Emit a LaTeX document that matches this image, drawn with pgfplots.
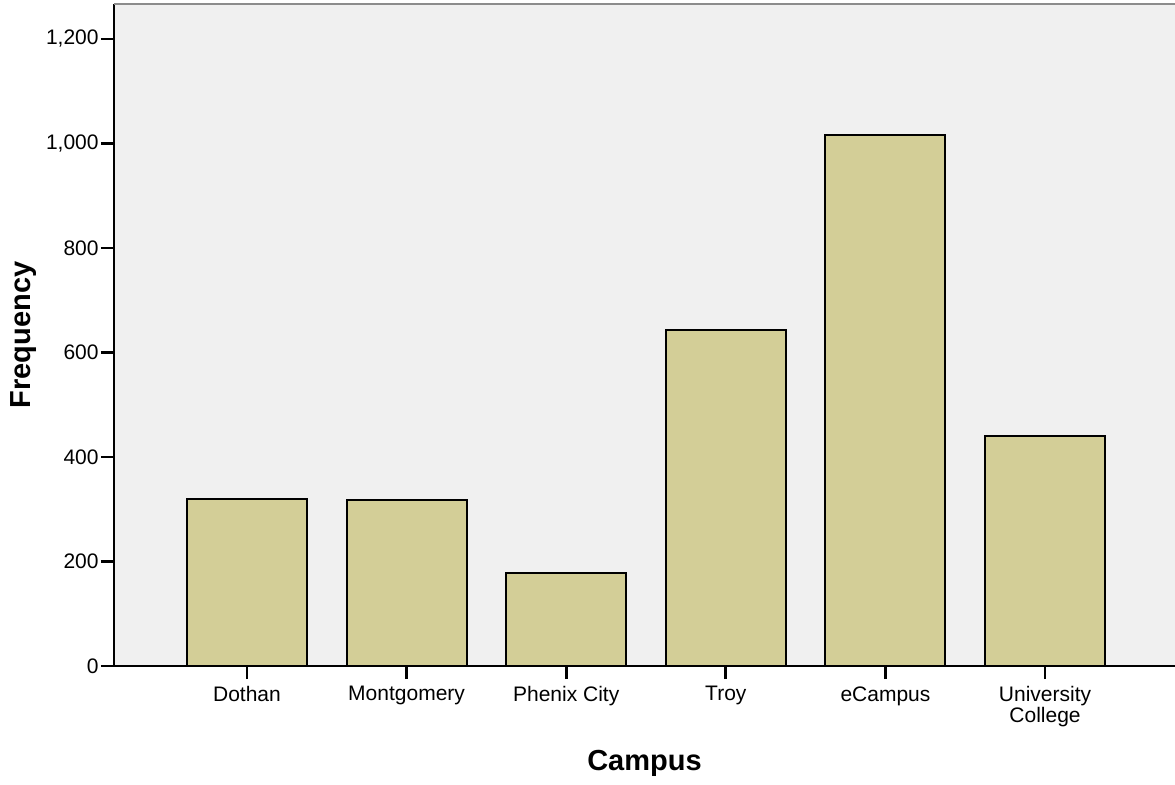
\documentclass[border=0pt]{standalone}
\usepackage{pgfplots}
\pgfplotsset{compat=1.18}
\usepackage{fontspec}
\setmainfont{Liberation Sans}

\definecolor{barfill}{RGB}{211,206,151}
\definecolor{plotbg}{RGB}{240,240,240}

\begin{document}
\begin{tikzpicture}
  % fix the page to the reference proportions (1 px = 0.5 pt)
  \useasboundingbox (-57pt,-59pt) rectangle (530.5pt,333pt);
  \begin{axis}[
    scale only axis,
    width=530.5pt, height=331pt,
    xmin=-0.833, xmax=5.814,
    ymin=0, ymax=1267,
    axis x line*=bottom,
    axis y line*=left,
    axis line style={line width=1.4pt, -},
    axis background/.style={fill=plotbg},
    tick align=outside,
    major tick length=6.5pt,
    tick style={line width=1.4pt, black},
    xtick={0,1,2,3,4,5},
    xticklabels={Dothan, Montgomery, Phenix City, Troy, eCampus, University\\College},
    xticklabel style={align=center, inner sep=0pt, yshift=-3.5pt,
      font={\fontsize{10.5}{10.4}\selectfont}},
    ytick={0,200,...,1200},
    yticklabel style={inner sep=0pt, xshift=-1pt, font=\fontsize{10.5}{12}\selectfont},
    /pgf/number format/assume math mode=true,
    /pgf/number format/1000 sep={,},
    xlabel={Campus},
    ylabel={Frequency},
    xlabel style={at={([yshift=-42pt]axis description cs:0.5,0)}, anchor=north, inner sep=0pt,
      font=\fontsize{14.5}{16}\selectfont\bfseries},
    ylabel style={at={([xshift=-52pt]axis description cs:0,0.5)}, anchor=north, inner sep=0pt,
      font=\fontsize{14.5}{16}\selectfont\bfseries},
    clip=false,
  ]
    \addplot[ybar, bar width=60pt, fill=barfill, draw=black, line width=1pt]
      coordinates {(0,320) (1,318) (2,178) (3,644) (4,1016) (5,440)};
    \draw[black!45, line width=0.8pt] (rel axis cs:0,1) -- (rel axis cs:1,1);
  \end{axis}
\end{tikzpicture}
\end{document}
